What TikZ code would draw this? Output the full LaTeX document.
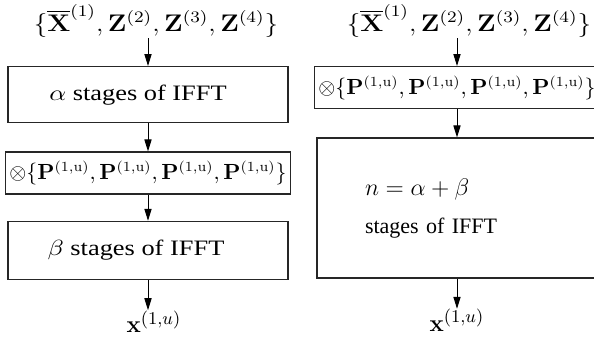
\documentclass[tikz,border=0pt]{standalone}
\usepackage[no-math]{fontspec}
\setmainfont{Liberation Serif}
\usepackage{amsmath}
\usepackage{graphicx}
\usetikzlibrary{arrows.meta, positioning}

\newcommand{\xzset}{$\{\overline{\mathbf{X}}^{(1)},\mathbf{Z}^{(2)},\mathbf{Z}^{(3)},\mathbf{Z}^{(4)}\}$}
\newcommand{\pset}{$\otimes\{\mathbf{P}^{(1,\mathrm{u})},\mathbf{P}^{(1,\mathrm{u})},\mathbf{P}^{(1,\mathrm{u})},\mathbf{P}^{(1,\mathrm{u})}\}$}
\newcommand{\wider}[2]{\scalebox{#1}[1]{#2}}

\tikzset{
  stagebox/.style={
    rectangle, draw=black!85, line width=0.7pt,
    minimum width=140pt, inner sep=2pt,
    font=\fontsize{11}{13}\selectfont
  },
  mulbox/.style={
    stagebox, minimum height=21pt,
    font=\fontsize{10.7}{12}\selectfont
  },
  setlabel/.style={inner sep=0pt, font=\fontsize{12}{14}\selectfont},
  outlabel/.style={inner sep=0pt, font=\fontsize{13}{15}\selectfont},
  flowarrow/.style={line width=0.5pt, -{Triangle[length=6pt,width=3.6pt]}}
}

\begin{document}
\begin{tikzpicture}[node distance=14pt]
  \useasboundingbox (0,0) rectangle (297pt,-169.5pt);

  %% --- two-step IFFT (left) ---
  \node[stagebox, minimum height=28pt, anchor=north] (alphaL) at (74pt,-33pt)
    {\wider{1.2}{$\alpha$ stages of IFFT}\hspace*{10pt}};
  \node[mulbox, below=14pt of alphaL] (mulL) {\pset};
  \node[stagebox, minimum height=29pt, below=13pt of mulL] (betaL)
    {\wider{1.2}{$\beta$ stages of IFFT}\hspace*{12pt}};

  \node[setlabel, above=14pt of alphaL, xshift=4pt] (inL) {\wider{1.13}{\xzset}};
  \node[outlabel, below=15pt of betaL, xshift=3pt] (outL) {$\mathbf{x}^{(1,u)}$};

  %% --- one-step IFFT (right) ---
  \node[mulbox, anchor=north] (mulR) at (228.5pt,-33pt) {\pset};
  \node[stagebox, minimum height=70pt, text width=92pt, inner xsep=24pt,
        align=left, below=14pt of mulR] (fullR)
    {{\fontsize{12}{14}\selectfont$n=\alpha+\beta$}\\[6pt]stages of IFFT};

  \node[setlabel, above=14pt of mulR, xshift=6pt] (inR) {\wider{1.13}{\xzset}};
  \node[outlabel, below=15pt of fullR] (outR) {$\mathbf{x}^{(1,u)}$};

  %% --- arrows ---
  \draw[flowarrow] (alphaL.north |- inL.south) -- (alphaL.north);
  \draw[flowarrow] (alphaL) -- (mulL);
  \draw[flowarrow] (mulL) -- (betaL);
  \draw[flowarrow] (betaL.south) -- (betaL.south |- outL.north);

  \draw[flowarrow] (mulR.north |- inR.south) -- (mulR.north);
  \draw[flowarrow] (mulR) -- (fullR);
  \draw[flowarrow] (fullR.south) -- (fullR.south |- outR.north);

\end{tikzpicture}
\end{document}
